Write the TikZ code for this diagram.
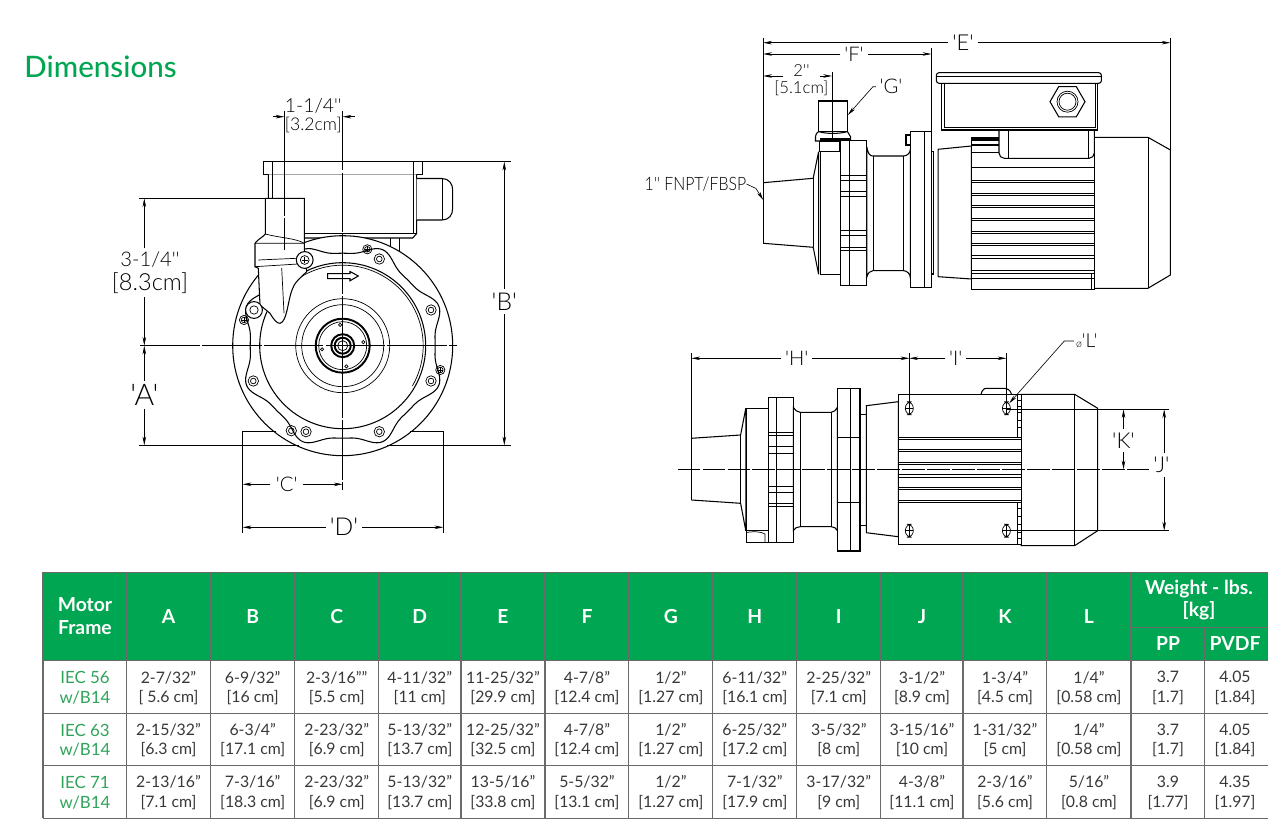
\documentclass[tikz,border=0pt]{standalone}
\usepackage{fontspec}
\usetikzlibrary{arrows.meta}
\setmainfont{Lato}
\newfontfamily\titlefont{Lato Medium}
\newfontfamily\dimfont{Lato Light}
\newfontfamily\cellfont{Lato}
\definecolor{pumpgreen}{HTML}{00A651}
\definecolor{framegreen}{HTML}{2FA35A}
\definecolor{gridgrey}{HTML}{6A6A6A}
\definecolor{celltext}{HTML}{383838}
\tikzset{
  part/.style={line width=0.6pt,black,fill=white},
  thinpart/.style={line width=0.4pt,black},
  heavy/.style={line width=1.1pt,black},
  dimline/.style={line width=0.35pt,black},
  dimarrow/.style={line width=0.35pt,black,-{Stealth[length=5pt,width=2pt]}},
  centerline/.style={line width=0.45pt,black,dash pattern=on 34pt off 1.2pt},
  dimlab/.style={font=\dimfont\fontsize{14}{15}\selectfont,inner sep=2pt,text=black},
  smalllab/.style={font=\dimfont\fontsize{11.5}{12}\selectfont,inner sep=2pt,text=black},
  headcell/.style={font=\bfseries\fontsize{11}{13}\selectfont,text=white,align=center,inner sep=0pt},
  datacell/.style={font=\cellfont\fontsize{9}{11.1}\selectfont,text=celltext,align=center,inner sep=0pt},
  framecell/.style={font=\cellfont\fontsize{9.6}{11.1}\selectfont,text=framegreen,align=center,inner sep=0pt},
}
\newcommand{\framehole}[2]{\draw[thinpart] (#1,#2) circle (5.2); \draw[thinpart] (#1,#2) circle (2.8);}
\newcommand{\framescrew}[2]{\draw[thinpart] (#1,#2) circle (4.6); \draw[thinpart] (#1,#2) circle (2.8);
  \draw[thinpart] (#1-2.8,#2) -- (#1+2.8,#2) (#1,#2-2.8) -- (#1,#2+2.8);}
\newcommand{\slothole}[2]{\draw[thinpart,rounded corners=3.6pt] (#1-4,#2-6.5) rectangle (#1+4,#2+6.5);
  \draw[thinpart] (#1-4,#2) -- (#1+4,#2) (#1,#2-6.5) -- (#1,#2+6.5);}
\newcommand{\rowcell}[4]{\node[datacell] (#1#2) at (col#1 |- row#2) {#3\\{}#4};}
\begin{document}
\begin{tikzpicture}[x=0.02cm,y=-0.02cm]
  \useasboundingbox (0,0) rectangle (1275,820);
  \node[font=\titlefont\fontsize{16.8}{18}\selectfont,text=pumpgreen,inner sep=0pt] (title) at (100.5,67) {Dimensions};

  % front view
  \coordinate (hub) at (342.7,345.7);
  \draw[part] (263.3,161.7) rectangle (422.7,174.3);
  \draw[thinpart] (272.7,161.7) -- (272.7,174.3) (413.3,161.7) -- (413.3,174.3);
  \draw[part] (268.3,174.3) -- (268.3,238) -- (412.7,238) -- (416.7,233.5) -- (416.7,174.3);
  \draw[thinpart] (272.7,174.3) -- (272.7,198) (304.3,233.3) -- (416.7,233.3) (413.3,174.3) -- (413.3,233.3);
  \draw[part] (416.7,178.5) -- (442,178.5) .. controls (449,178.5) and (452.7,184) .. (452.7,190) -- (452.7,208) .. controls (452.7,215) and (449,220) .. (442,220) -- (416.7,220);
  \draw[thinpart] (442,178.5) -- (442,220);
  \draw[thinpart] (390.7,238) -- (390.7,254) (399.3,238) -- (399.3,256);
  \draw[part] (hub) circle (110);
  \draw[part] plot[smooth,domain=0:360,samples=121,variable=\t]
    ({342.7+(92.5+11.5*sin(4*\t)*sin(4*\t)*sin(4*\t)*sin(4*\t))*cos(\t)},{345.7+(92.5+11.5*sin(4*\t)*sin(4*\t)*sin(4*\t)*sin(4*\t))*sin(\t)});
  \draw[part] (hub) circle (83);
  \draw[thinpart] (hub) ++(235:80.5) arc (235:390:80.5);
  \draw[thinpart] (hub) circle (47);
  \draw[thinpart] (hub) circle (41);
  \draw[heavy] (hub) circle (27);
  \draw[thinpart] (hub) circle (24);
  \draw[heavy] (hub) circle (11.5);
  \draw[heavy] (hub) circle (8);
  \draw[thinpart] (hub) circle (5);
  \foreach \ang in {-97,-10,80,170} {
    \draw[thinpart] (hub) ++(\ang:21) circle (1.6);
  }
  \framehole{379.3}{259}
  \framehole{431}{310}
  \framehole{431}{381}
  \framehole{379.3}{431.7}
  \framehole{306}{431.7}
  \framehole{291.3}{430.7}
  \framehole{253.3}{381}
  \framescrew{367.3}{249.3}
  \framescrew{440.3}{370}
  \framescrew{244}{320}
  \draw[part] (327.7,273.6) -- (350,273.6) -- (350,271.5) -- (358.3,276) -- (350,280.8) -- (350,278.6) -- (327.7,278.6) -- cycle;
  \draw[part] (255,243.3) .. controls (258,239) and (262,238) .. (265.3,234) -- (265.3,198.3) -- (304.3,198.3) -- (304.3,252) -- (306.7,271.7)
    .. controls (300,278) and (294,283) .. (292,290) .. controls (288,300) and (287,322) .. (280,323.3)
    .. controls (277,323.5) and (274,320) .. (270,313.3) -- (260,305) -- (258.3,268.3) -- (255,266.7) -- cycle;
  \draw[thinpart] (265.3,234) .. controls (280,238) and (295,238) .. (304.3,243.3);
  \draw[thinpart] (255,243.3) -- (304.3,243.3) (258.3,260) -- (297,258.3) (255,266.7) -- (298,264);
  \draw[thinpart] (281.7,268) -- (284,313);
  \draw[part] (304.7,260) circle (8.4);
  \draw[thinpart] (304.7,260) circle (4.4);
  \draw[thinpart] (302,260) -- (307.5,260) (304.7,257.2) -- (304.7,262.8);
  \draw[part] (254,310) circle (8.4);
  \draw[thinpart] (254,310) circle (4.2);
  \draw[part,draw=none] (242.7,432) rectangle (274,445);
  \draw[part,draw=none] (411,432) rectangle (443.3,445);
  \draw[part,fill=none] (276,431.3) -- (242.7,431.3) -- (242.7,445.3) -- (299,445.3);
  \draw[part,fill=none] (410,431.3) -- (443.3,431.3) -- (443.3,445.3) -- (386.7,445.3);
  \draw[centerline] (342.7,110.7) -- (342.7,490);
  \draw[centerline] (140,345.7) -- (457.3,345.7);
  % front view dimensions
  \draw[dimline,dash pattern=on 60pt off 1.2pt] (284.3,110.7) -- (284.3,250);
  \coordinate (slotA) at (273.3,116.7);
  \coordinate (slotB) at (284.3,116.7);
  \coordinate (slotC) at (355,116.7);
  \coordinate (slotD) at (342.7,116.7);
  \draw[dimarrow] (slotA) -- (slotB);
  \draw[dimarrow] (slotC) -- (slotD);
  \node[smalllab,font=\dimfont\fontsize{11}{13}\selectfont] (slotinch) at (313.3,105.5) {1-1/4''};
  \node[smalllab,font=\dimfont\fontsize{10}{12}\selectfont] (slotcm) at (313.3,125) {[3.2cm]};
  \draw[dimline] (139.3,198.3) -- (265.3,198.3);
  \draw[dimline] (139.3,445.3) -- (242.7,445.3);
  \draw[dimline] (423,161.7) -- (511,161.7);
  \draw[dimline] (444,445.3) -- (511,445.3);
  \coordinate (pipetop) at (144.3,198.3);
  \coordinate (hubleft) at (144.3,345.7);
  \coordinate (footleft) at (144.3,445.3);
  \node[dimlab,font=\dimfont\fontsize{11.5}{14}\selectfont] (pipeinch) at (150,260) {3-1/4''};
  \node[dimlab,font=\dimfont\fontsize{13.4}{14}\selectfont] (pipecm) at (150,282.7) {[8.3cm]};
  \draw[dimarrow] (pipetop |- pipeinch.north) -- (pipetop);
  \draw[dimarrow] (hubleft |- pipecm.south) -- (hubleft);
  \node[dimlab,font=\dimfont\fontsize{17}{18}\selectfont] (labA) at (144.3,395) {'A'};
  \draw[dimarrow] (labA) -- (hubleft);
  \draw[dimarrow] (labA) -- (footleft);
  \coordinate (boxtop) at (504.3,161.7);
  \coordinate (boxfoot) at (504.3,445.3);
  \node[dimlab] (labB) at (504.3,301.7) {'B'};
  \draw[dimarrow] (labB) -- (boxtop);
  \draw[dimarrow] (labB) -- (boxfoot);
  \draw[dimline] (242.7,445.3) -- (242.7,533);
  \draw[dimline] (443.3,445.3) -- (443.3,533);
  \coordinate (footC) at (242.7,484.3);
  \coordinate (hubC) at (342.7,484.3);
  \node[smalllab,inner sep=3pt] (labC) at (286.7,484.3) {'C'};
  \draw[dimarrow] (labC) -- (footC);
  \draw[dimarrow] (labC) -- (hubC);
  \coordinate (footD) at (242.7,527.3);
  \coordinate (footE) at (443.3,527.3);
  \node[dimlab] (labD) at (344,527.3) {'D'};
  \draw[dimarrow] (labD) -- (footD);
  \draw[dimarrow] (labD) -- (footE);

  % side view
  \draw[part] (763.2,182.7) -- (813.2,178.3) -- (818.6,151.7) -- (818.6,274.3) -- (813.2,247.3) -- (763.2,243.3);
  \draw[thinpart] (813.2,178.3) -- (813.2,247.3);
  \draw[part] (818.6,101) rectangle (847.5,131.7);
  \draw[part] (815.5,141) -- (815.5,136.7) .. controls (816,133) and (818,132) .. (818.6,131.7) .. controls (828,134) and (838,134) .. (847.5,131.7) -- (850.7,137) -- (850.7,141) -- cycle;
  \fill (819.6,138.3) rectangle (850.7,141);
  \draw[part] (820.4,151.7) rectangle (866.8,274.3);
  \draw[part] (819.3,141.7) rectangle (839.3,151.7);
  \draw[part] (840.4,140.7) rectangle (866.8,285.7);
  \draw[thinpart] (849.6,140.7) -- (849.6,285.7);
  \foreach \yy in {175.7,180,191,196,230,235,247.7,250.7} {
    \draw[thinpart] (840.4,\yy) -- (866.8,\yy);
  }
  \draw[part] (866.8,146.7) .. controls (868,154) and (870,156) .. (872.9,156) -- (903.6,156) .. controls (907,156) and (910.4,153) .. (910.4,149) -- (910.4,278.3)
    .. controls (910.4,274) and (907,270.7) .. (903.6,270.7) -- (872.9,270.7) .. controls (870,270.7) and (868,273) .. (866.8,277) -- cycle;
  \draw[thinpart] (872.9,156) -- (872.9,270.7) (903.6,156) -- (903.6,270.7);
  \draw[part] (906,135) rectangle (910.4,145);
  \draw[part] (910.4,131.7) rectangle (931.4,287.3);
  \draw[thinpart] (923.9,131.7) -- (923.9,287.3);
  \draw[part] (931.4,151.7) rectangle (933.6,274);
  \draw[part] (938.2,149.3) -- (971.4,146) -- (971.4,279) -- (938.2,276.7) -- cycle;
  \draw[part] (1094.3,137.3) -- (1147.9,137.3) -- (1170.4,150) -- (1170.4,275) -- (1147.9,288.3) -- (1094.3,288.3) -- cycle;
  \draw[thinpart] (1147.9,137.3) -- (1147.9,288.3);
  \draw[part] (971.4,137.3) rectangle (1094.3,289.3);
  \foreach \ya/\yb in {167.3/180,182.7/193.3,195.7/205,207.3/218.3,220.7/231,233.7/243.3,245.7/255.7,258.3/270.7,273.3/278.3} {
    \draw[thinpart] (971.4,\ya) rectangle (1094.3,\yb);
  }
  \draw[thinpart] (1091.8,273.3) -- (1091.8,289.3);
  \fill (971.4,137.3) rectangle (999,140.7);
  \fill (971.4,144) rectangle (999,146);
  \draw[thinpart] (971.4,152.7) -- (999,152.7);
  \draw[part,rounded corners=3pt] (999,126) -- (999,158.3) -- (1094.3,158.3) -- (1094.3,126);
  \draw[thinpart] (1007.9,130.7) -- (1007.9,158.3) (1088.2,130.7) -- (1088.2,158.3);
  \draw[part] (941.8,83.3) -- (941.8,130) -- (1097.9,130) -- (1097.9,83.3);
  \draw[thinpart] (944.3,83.3) -- (944.3,127.7) -- (1095.4,127.7) -- (1095.4,83.3);
  \draw[part,rounded corners=1.5pt] (936.4,72.7) rectangle (1101.4,83.3);
  \draw[thinpart] (936.4,76) -- (1101.4,76);
  \draw[part] (1067.5,101.7) ++(0:17.5) -- ++(120:17.5) -- ++(180:17.5) -- ++(240:17.5) -- ++(300:17.5) -- ++(0:17.5) -- cycle;
  \draw[thinpart] (1067.5,101.7) circle (10.5);
  \draw[thinpart] (1067.5,101.7) circle (8.5);
  % side view dimensions
  \draw[dimline] (763.2,38.3) -- (763.2,182.7);
  \draw[dimline] (763.2,182.7) -- (763.2,243.3);
  \draw[dimline] (1170.4,38.3) -- (1170.4,150);
  \draw[dimline] (931.4,48.3) -- (931.4,131.7);
  \coordinate (inletE) at (763.2,42.7);
  \coordinate (capE) at (1170.4,42.7);
  \node[smalllab,font=\dimfont\fontsize{12.5}{13}\selectfont] (labE) at (963,42.7) {'E'};
  \draw[dimarrow] (labE) -- (inletE);
  \draw[dimarrow] (labE) -- (capE);
  \coordinate (inletF) at (763.2,54);
  \coordinate (flangeF) at (931.4,54);
  \node[smalllab] (labF) at (854,54) {'F'};
  \draw[dimarrow] (labF) -- (inletF);
  \draw[dimarrow] (labF) -- (flangeF);
  \draw[dimline] (832,71.7) -- (832,140);
  \coordinate (inlet2) at (763.2,76);
  \coordinate (pipe2) at (832,76);
  \node[smalllab,font=\dimfont\fontsize{9.5}{11}\selectfont] (twoinch) at (801.4,71) {2''};
  \node[smalllab,font=\dimfont\fontsize{9.5}{11}\selectfont] (twocm) at (801.4,88.3) {[5.1cm]};
  \draw[dimarrow] (782.9,76) -- (inlet2);
  \draw[dimarrow] (820.4,76) -- (pipe2);
  \node[smalllab] (labG) at (891,86.7) {'G'};
  \coordinate (pipeG) at (847.9,115);
  \draw[dimarrow] (labG.west) -- (872.9,86.7) -- (pipeG);
  \node[smalllab,font=\dimfont\fontsize{10.5}{12}\selectfont,inner sep=0pt,xscale=0.86] (labthread) at (695.4,184) {1'' FNPT/FBSP};
  \coordinate (inletT) at (763.2,200);
  \draw[dimarrow] (labthread.east) -- (756,188.5) -- (inletT);

  % top view
  \draw[part] (691.4,438.3) -- (740.6,435) -- (745.8,408.3) -- (745.8,530.7) -- (740.6,503.3) -- (691.4,500);
  \draw[thinpart] (740.6,435) -- (740.6,503.3);
  \draw[dimline] (691.4,353.3) -- (691.4,500);
  \draw[part] (746.4,408.3) rectangle (768.5,530.7);
  \draw[part] (746.4,530.7) rectangle (768.5,542.3);
  \draw[thinpart] (746.4,532.5) .. controls (755,531) and (762,532) .. (765,534) -- (765,542.3);
  \draw[part] (768.5,397.3) rectangle (793.3,542.3);
  \draw[thinpart] (776.8,397.3) -- (776.8,542.3);
  \foreach \yy in {432.3,435.7,446.7,453.3,486.7,492.7,503.3,506} {
    \draw[thinpart] (768.5,\yy) -- (793.3,\yy);
  }
  \draw[part] (793.3,407.3) .. controls (795,410) and (797,412.3) .. (800.2,412.3) -- (831.2,412.3) .. controls (834,412.3) and (836,410) .. (837.4,407.3) -- (837.4,530.7)
    .. controls (836,528) and (834,526.7) .. (831.2,526.7) -- (800.2,526.7) .. controls (797,526.7) and (795,528) .. (793.3,530.7) -- cycle;
  \draw[thinpart] (800.2,412.3) -- (800.2,526.7) (831.2,412.3) -- (831.2,526.7);
  \draw[part] (837.4,388.3) rectangle (860,551);
  \draw[thinpart] (850.8,388.3) -- (850.8,551) (837.4,437.3) -- (860,437.3) (837.4,502.7) -- (860,502.7);
  \draw[heavy] (860.5,410) -- (860.5,526.7);
  \draw[thinpart] (860,414) -- (866.3,414) (860,525) -- (866.3,525);
  \draw[part] (866.3,405.7) -- (898.3,401.7) -- (898.3,536.7) -- (866.3,532.7) -- cycle;
  \draw[part] (981,394.3) .. controls (983,387.5) and (985,388.3) .. (990,388.3) -- (1003,388.3) .. controls (1008,388.3) and (1010,390) .. (1011.6,394.3);
  \draw[part] (1021.2,394.3) -- (1074.6,394.3) -- (1097.7,408.3) -- (1097.7,530.7) -- (1074.6,545.7) -- (1021.2,545.7) -- cycle;
  \draw[thinpart] (1074.6,394.3) -- (1074.6,545.7);
  \draw[part] (898.3,394.3) rectangle (1021.2,544.3);
  \foreach \ya/\yb in {439.3/449.3,451.3/462.3,464.3/474.7,477/487.3,489.7/500.3} {
    \draw[thinpart] (898.3,\ya) rectangle (1021.2,\yb);
  }
  \draw[thinpart] (898.3,437.3) -- (1021.2,437.3) (898.3,502.3) -- (1021.2,502.3);
  \draw[thinpart] (1017.8,394.3) -- (1017.8,437.3) (1017.8,502.3) -- (1017.8,544.3);
  \foreach \yy in {400,406,412,420,427,508,516,524,532,538} {
    \draw[thinpart] (1017.8,\yy) -- (1021.2,\yy);
  }
  \slothole{909.3}{408.3}
  \slothole{1006.4}{408.3}
  \slothole{909.3}{530.7}
  \slothole{1006.4}{530.7}
  \draw[centerline,dash pattern=on 13pt off 1.2pt] (677.6,469.3) -- (1148.7,469.3);
  % top view dimensions
  \draw[dimline] (909.3,353.3) -- (909.3,402);
  \draw[dimline] (1006.4,353.3) -- (1006.4,402);
  \draw[dimline] (1006.4,409.3) -- (1169.3,409.3);
  \draw[dimline] (1006.4,530.7) -- (1169.3,530.7);
  \coordinate (inletH) at (691.4,358.3);
  \coordinate (slotH) at (909.3,358.3);
  \coordinate (slotI) at (1006.4,358.3);
  \node[smalllab] (labH) at (796.7,358.3) {'H'};
  \draw[dimarrow] (labH) -- (inletH);
  \draw[dimarrow] (labH) -- (slotH);
  \node[smalllab] (labI) at (955.8,358.3) {'I'};
  \draw[dimarrow] (labI) -- (slotH);
  \draw[dimarrow] (labI) -- (slotI);
  \node[smalllab,inner sep=1pt,font=\dimfont\fontsize{11}{12}\selectfont] (labL) at (1086.7,341) {{\fontsize{6}{6}\selectfont ø}'L'};
  \coordinate (slotL) at (1009.2,403.3);
  \draw[dimarrow] (labL.west) -- (1064.3,341) -- (slotL);
  \coordinate (kTop) at (1123.5,409.3);
  \coordinate (kMid) at (1123.5,469.3);
  \node[smalllab,font=\dimfont\fontsize{12.5}{13}\selectfont] (labK) at (1123.5,440.7) {'K'};
  \draw[dimarrow] (labK) -- (kTop);
  \draw[dimarrow] (labK) -- (kMid);
  \coordinate (jTop) at (1164.2,409.3);
  \coordinate (jBot) at (1164.2,530.7);
  \node[smalllab,font=\dimfont\fontsize{12.5}{13}\selectfont] (labJ) at (1161.4,465) {'J'};
  \draw[dimarrow] (jTop |- labJ.north) -- (jTop);
  \draw[dimarrow] (jTop |- labJ.south) -- (jBot);

  % table
  \fill[pumpgreen] (43,572.3) rectangle (1267.5,660.3);
  \foreach \xx in {43,126.4,210.6,294.8,378.6,461,545,628.8,712.9,796.7,880.9,963,1046.9,1131} {
    \draw[gridgrey,line width=0.6pt] (\xx,572.3) -- (\xx,818.3);
  }
  \draw[gridgrey,line width=0.6pt] (1204.8,627.3) -- (1204.8,818.3);
  \draw[gridgrey,line width=0.6pt] (1131,627.3) -- (1267.5,627.3);
  \foreach \yy in {572.3,660.3,713.3,765.7,818.3} {
    \draw[gridgrey,line width=0.6pt] (43,\yy) -- (1267.5,\yy);
  }
  \foreach \cname/\cx in {F/85,A/168.5,B/252.7,C/336.7,D/419.8,E/503,Fd/587,G/670.9,H/754.8,I/838.8,J/922,K/1005,L/1089,P/1168,V/1235} {
    \coordinate (col\cname) at (\cx,0);
  }
  \foreach \rname/\ry in {a/688,b/740.2,c/792.8} {
    \coordinate (row\rname) at (0,\ry);
  }
  \node[headcell] (headframe) at (85,616.5) {Motor\\Frame};
  \foreach \hname/\htext in {A/A,B/B,C/C,D/D,E/E,Fd/F,G/G,H/H,I/I,J/J,K/K,L/L} {
    \node[headcell] (head\hname) at (col\hname |- 0,617) {\htext};
  }
  \node[headcell] (headweight) at (1199,600) {Weight - lbs.\\{}[kg]};
  \node[headcell] (headpp) at (colP |- 0,643.5) {PP};
  \node[headcell] (headpvdf) at (colV |- 0,643.5) {PVDF};
  \node[framecell] (framea) at (colF |- rowa) {IEC 56\\w/B14};
  \node[framecell] (frameb) at (colF |- rowb) {IEC 63\\w/B14};
  \node[framecell] (framec) at (colF |- rowc) {IEC 71\\w/B14};
  \rowcell{A}{a}{2-7/32”}{[ 5.6 cm]}
  \rowcell{B}{a}{6-9/32”}{[16 cm]}
  \rowcell{C}{a}{2-3/16””}{[5.5 cm]}
  \rowcell{D}{a}{4-11/32”}{[11 cm]}
  \rowcell{E}{a}{11-25/32”}{[29.9 cm]}
  \rowcell{Fd}{a}{4-7/8”}{[12.4 cm]}
  \rowcell{G}{a}{1/2”}{[1.27 cm]}
  \rowcell{H}{a}{6-11/32”}{[16.1 cm]}
  \rowcell{I}{a}{2-25/32”}{[7.1 cm]}
  \rowcell{J}{a}{3-1/2”}{[8.9 cm]}
  \rowcell{K}{a}{1-3/4”}{[4.5 cm]}
  \rowcell{L}{a}{1/4”}{[0.58 cm]}
  \rowcell{P}{a}{3.7}{[1.7]}
  \rowcell{V}{a}{4.05}{[1.84]}
  \rowcell{A}{b}{2-15/32”}{[6.3 cm]}
  \rowcell{B}{b}{6-3/4”}{[17.1 cm]}
  \rowcell{C}{b}{2-23/32”}{[6.9 cm]}
  \rowcell{D}{b}{5-13/32”}{[13.7 cm]}
  \rowcell{E}{b}{12-25/32”}{[32.5 cm]}
  \rowcell{Fd}{b}{4-7/8”}{[12.4 cm]}
  \rowcell{G}{b}{1/2”}{[1.27 cm]}
  \rowcell{H}{b}{6-25/32”}{[17.2 cm]}
  \rowcell{I}{b}{3-5/32”}{[8 cm]}
  \rowcell{J}{b}{3-15/16”}{[10 cm]}
  \rowcell{K}{b}{1-31/32”}{[5 cm]}
  \rowcell{L}{b}{1/4”}{[0.58 cm]}
  \rowcell{P}{b}{3.7}{[1.7]}
  \rowcell{V}{b}{4.05}{[1.84]}
  \rowcell{A}{c}{2-13/16”}{[7.1 cm]}
  \rowcell{B}{c}{7-3/16”}{[18.3 cm]}
  \rowcell{C}{c}{2-23/32”}{[6.9 cm]}
  \rowcell{D}{c}{5-13/32”}{[13.7 cm]}
  \rowcell{E}{c}{13-5/16”}{[33.8 cm]}
  \rowcell{Fd}{c}{5-5/32”}{[13.1 cm]}
  \rowcell{G}{c}{1/2”}{[1.27 cm]}
  \rowcell{H}{c}{7-1/32”}{[17.9 cm]}
  \rowcell{I}{c}{3-17/32”}{[9 cm]}
  \rowcell{J}{c}{4-3/8”}{[11.1 cm]}
  \rowcell{K}{c}{2-3/16”}{[5.6 cm]}
  \rowcell{L}{c}{5/16”}{[0.8 cm]}
  \rowcell{P}{c}{3.9}{[1.77]}
  \rowcell{V}{c}{4.35}{[1.97]}
\end{tikzpicture}
\end{document}
